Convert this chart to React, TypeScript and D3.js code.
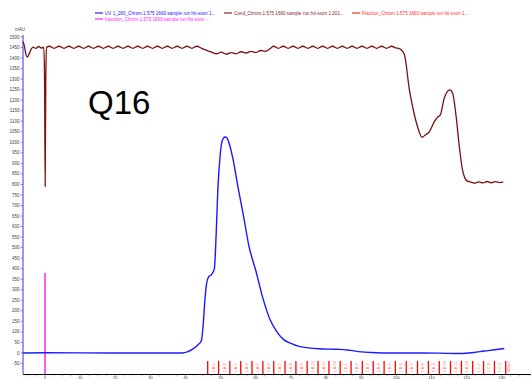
import React from "react";
import * as d3 from "d3";

const uvMl = [-6.25, 0, 20, 39, 40.5, 42, 43.5, 44.5, 45.0, 45.5, 46.0, 46.6, 47.4, 48.2, 48.7, 49.2, 49.8, 50.4, 51.2, 51.8, 52.5, 53.5, 55, 56.5, 58, 60, 62, 64, 66, 68, 70, 72, 75, 78, 81, 84, 87, 90, 93, 97, 105, 112, 118, 122, 125, 128, 130.7];
const uvMau = [0, 1, 0, 0, 5, 18, 38, 58, 130, 250, 330, 362, 372, 400, 560, 780, 930, 1005, 1025, 1020, 990, 920, 780, 650, 510, 390, 260, 160, 100, 62, 45, 32, 24, 20, 18, 17, 12, 5, 2, 0, 0, -1, -3, 2, 9, 15, 21];

const condMl = [-6.25, -5.9, -5.4, -5.0, -4.5, -4.0, -3.4, -2.6, -1.8, -1.0, -0.35, -0.12, 0.05, 0.22, 0.45,
  1.2, 2.6, 4.0, 5.4, 6.8, 8.2, 9.6, 11.0, 12.4, 13.8, 15.2, 16.6, 18.0, 19.4, 20.8, 22.2, 23.6, 25.0, 26.4, 27.8, 29.2, 30.6, 32.0, 33.4, 34.8, 36.2, 37.6, 39.0, 40.4, 41.8, 43.2, 44.6,
  46.0, 47.4, 48.8, 50.2, 51.6, 53.0, 54.4, 55.8, 57.2, 58.6, 60.0, 61.4, 62.8, 64.0,
  65.0, 66.4, 67.8, 69.2, 70.6, 72.0, 73.4, 74.8, 76.2, 77.6, 79.0, 80.4, 81.8, 83.2, 84.6, 86.0, 87.4, 88.8, 90.2, 91.6, 93.0, 94.4, 95.8, 97.2, 98.6, 99.8,
  100.6, 101.4, 102.3, 103.7, 104.6, 106.0, 107.3, 108.2, 109.4, 110.8, 111.7, 112.5, 113.6, 115.2, 116.0, 117.0, 117.9, 118.8, 119.5, 120.2, 121.0,
  122.2, 123.4, 124.6, 125.8, 127.0, 128.2, 129.4, 130.4];
const condMau = [1478, 1460, 1415, 1405, 1420, 1440, 1452, 1446, 1455, 1447, 1452, 1300, 790, 1300, 1450,
  1456, 1446, 1456, 1446, 1456, 1446, 1456, 1446, 1456, 1446, 1456, 1446, 1456, 1446, 1456, 1446, 1456, 1446, 1456, 1446, 1456, 1446, 1456, 1446, 1456, 1446, 1456, 1446, 1456, 1446, 1456, 1446,
  1436, 1428, 1420, 1428, 1418, 1426, 1420, 1430, 1424, 1432, 1426, 1436, 1432, 1444,
  1456, 1446, 1456, 1446, 1456, 1446, 1456, 1446, 1456, 1446, 1456, 1446, 1456, 1446, 1456, 1446, 1456, 1446, 1456, 1446, 1456, 1446, 1456, 1446, 1456, 1448,
  1446, 1438, 1415, 1249, 1170, 1075, 1024, 1035, 1051, 1098, 1119, 1130, 1209, 1249, 1233, 1122, 980, 869, 830, 816, 812,
  806, 812, 807, 814, 808, 813, 809, 811];

const injMl = [0, 0];
const injMau = [-100, 380];

const fracMl = [46.3, 49.4, 52.6, 55.7, 58.9, 62.0, 65.1, 68.3, 71.4, 74.6, 77.7, 80.8, 84.0, 87.1, 90.3, 93.4, 96.5, 99.7, 102.8, 106.0, 109.1, 112.2, 115.4, 118.5, 121.7, 124.8, 127.9, 131.1];
const fracLabels = ["1.A.1", "1.A.2", "1.A.3", "1.A.4", "1.A.5", "1.A.6", "1.A.7", "1.A.8", "1.A.9", "1.A.10", "1.A.11", "1.A.12", "1.B.1", "1.B.2", "1.B.3", "1.B.4", "1.B.5", "1.B.6", "1.B.7", "1.B.8", "1.B.9", "1.B.10", "1.B.11", "1.B.12", "1.C.1", "1.C.2", "1.C.3", "Waste"];

const yTicks = [-50, 0, 50, 100, 150, 200, 250, 300, 350, 400, 450, 500, 550, 600, 650, 700, 750, 800, 850, 900, 950, 1000, 1050, 1100, 1150, 1200, 1250, 1300, 1350, 1400, 1450, 1500];
const xTicks = [0, 10, 20, 30, 40, 50, 60, 70, 80, 90, 100, 110, 120, 130];
const xMinor = [-5, -2.5, 2.5, 5, 7.5, 12.5, 15, 17.5, 22.5, 25, 27.5, 32.5, 35, 37.5, 42.5, 45, 47.5, 52.5, 55, 57.5, 62.5, 65, 67.5, 72.5, 75, 77.5, 82.5, 85, 87.5, 92.5, 95, 97.5, 102.5, 105, 107.5, 112.5, 115, 117.5, 122.5, 125, 127.5, 132.5, 135, 137.5];

const legendItems = [
  { label: "UV 1_280_Chrom.1:575 1660 sample run htt exon 1...", color: "#2020ff", row: 0, x: 95 },
  { label: "Cond_Chrom.1:575 1660 sample run htt exon 1:201...", color: "#8b2525", row: 0, x: 224 },
  { label: "Fraction_Chrom.1:575 1660 sample run htt exon 1...", color: "#ff3030", row: 0, x: 352 },
  { label: "Injection_Chrom.1:575 1660 sample run htt exon ...", color: "#ff20ff", row: 1, x: 95 },
];

export default function App() {
  const W = 531, H = 379;
  const x = d3.scaleLinear().domain([-6.26, 138.3]).range([23, 531]);
  const y = d3.scaleLinear().domain([-100, 1500]).range([374, 37]);
  const mk = (a: number[], b: number[]) => a.map((v, i) => [v, b[i]] as [number, number]);
  const lineGen = d3.line<[number, number]>().x(d => x(d[0])).y(d => y(d[1])).curve(d3.curveMonotoneX);
  const uvPath = lineGen(mk(uvMl, uvMau)) || "";
  const condPath = lineGen(mk(condMl, condMau)) || "";
  const injPath = d3.line<[number, number]>().x(d => x(d[0])).y(d => y(d[1]))(mk(injMl, injMau)) || "";
  const font = "'Liberation Sans', Arial, sans-serif";
  const fy0 = y(-100);
  const fy1 = y(-38);
  return (
    <svg width={W} height={H} style={{ position: "absolute", left: 0, top: 0, background: "#fff" }} fontFamily={font}>
      {legendItems.map((it, i) => (
        <g key={i}>
          <line x1={it.x} x2={it.x + 8} y1={13 + it.row * 6} y2={13 + it.row * 6} stroke={it.color} strokeWidth={1.2} />
          <text x={it.x + 10} y={13 + it.row * 6} dy="0.35em" fontSize={4.6} fill={it.color}>{it.label}</text>
        </g>
      ))}
      <text x={88} y={114} fontSize={33} fill="#000" fontFamily={font}>Q16</text>
      <text x={20} y={31} fontSize={4.5} fill="#444" textAnchor="middle">mAU</text>
      <line x1={23} x2={23} y1={35} y2={374} stroke="#3030ff" strokeWidth={1} />
      {yTicks.map(t => (
        <g key={t}>
          <line x1={20.5} x2={23} y1={y(t)} y2={y(t)} stroke="#555" strokeWidth={0.6} />
          <text x={19.5} y={y(t)} dy="0.35em" fontSize={4.5} fill="#444" textAnchor="end">{t}</text>
        </g>
      ))}
      <line x1={23} x2={531} y1={374.5} y2={374.5} stroke="#000" strokeWidth={1} />
      {xMinor.map(t => (
        <line key={"m" + t} x1={x(t)} x2={x(t)} y1={374.5} y2={376.5} stroke="#777" strokeWidth={0.5} />
      ))}
      {xTicks.map(t => (
        <g key={t}>
          <line x1={x(t)} x2={x(t)} y1={374.5} y2={376.5} stroke="#555" strokeWidth={0.6} />
          <text x={x(t)} y={378.8} fontSize={4} fill="#444" textAnchor="middle">{t}</text>
        </g>
      ))}
      {fracMl.map((f, i) => {
        const next = i < fracMl.length - 1 ? fracMl[i + 1] : f + 1.2;
        const cx = i < fracMl.length - 1 ? (x(f) + x(next)) / 2 : x(f) + 2.5;
        return (
          <g key={"f" + i}>
            <line x1={x(f)} x2={x(f)} y1={fy0} y2={fy1} stroke="#ff0000" strokeWidth={1.3} />
            <text transform={`translate(${cx},${fy0 - 1.5}) rotate(-90)`} fontSize={4} fill="#ff7070" dy="0.35em">{fracLabels[i]}</text>
          </g>
        );
      })}
      <path d={injPath} fill="none" stroke="#ff20ff" strokeWidth={1.5} />
      <path d={uvPath} fill="none" stroke="#1a1aff" strokeWidth={1.4} />
      <path d={condPath} fill="none" stroke="#7a1010" strokeWidth={1.3} />
    </svg>
  );
}
